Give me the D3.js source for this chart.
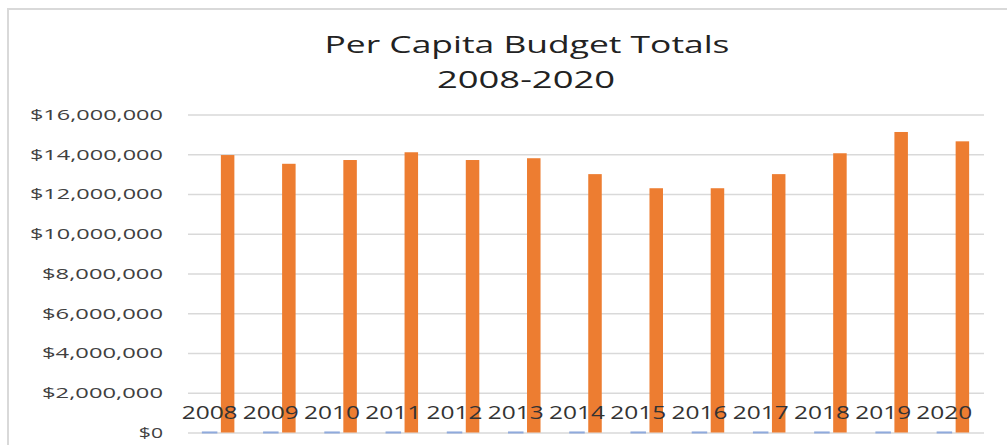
<!DOCTYPE html>
<html>
<head>
<meta charset="utf-8">
<script src="https://cdn.jsdelivr.net/npm/d3@7"></script>
<style>
  body { margin: 0; background: #fff; }
  text { font-family: "Open Sans", "Liberation Sans", sans-serif; }
</style>
</head>
<body>
<div class="canvas"></div>
<script>
// data
const years = ['2008', '2009', '2010', '2011', '2012', '2013', '2014', '2015', '2016', '2017', '2018', '2019', '2020']
// first series is the year itself (shows as a sliver at the bottom, labelled)
const yearValues = [2008, 2009, 2010, 2011, 2012, 2013, 2014, 2015, 2016, 2017, 2018, 2019, 2020]
const budgetTotals = [13960000, 13520000, 13710000, 14100000, 13710000, 13800000, 13000000, 12290000, 12290000, 13000000, 14050000, 15120000, 14650000]
const yTicks = [0, 2000000, 4000000, 6000000, 8000000, 10000000, 12000000, 14000000, 16000000]
const titleLines = ['Per Capita Budget Totals', '2008-2020']

const width = 1007
const height = 445

const margin = { top: 114.5, right: 23, bottom: 12.5, left: 188 }
const graphWidth = width - margin.left - margin.right
const graphHeight = height - margin.top - margin.bottom

const svg = d3.select('.canvas')
  .append('svg')
  .attr('width', width)
  .attr('height', height)

// chart frame (only top and left edges are in the shot)
svg.append('path')
  .attr('d', `M8,${height} V9 H${width}`)
  .attr('fill', 'none')
  .attr('stroke', '#d9d9d9')
  .attr('stroke-width', 2)

// title
svg.append('text')
  .attr('x', 527)
  .attr('y', 53)
  .attr('text-anchor', 'middle')
  .attr('font-size', 23.5)
  .attr('fill', '#222')
  .attr('textLength', 405)
  .attr('lengthAdjust', 'spacingAndGlyphs')
  .text(titleLines[0])

svg.append('text')
  .attr('x', 526)
  .attr('y', 88)
  .attr('text-anchor', 'middle')
  .attr('font-size', 23.5)
  .attr('fill', '#222')
  .attr('textLength', 178)
  .attr('lengthAdjust', 'spacingAndGlyphs')
  .text(titleLines[1])

const graph = svg.append('g')
  .attr('transform', `translate(${margin.left}, ${margin.top})`)

const y = d3.scaleLinear()
  .domain([0, 16000000])
  .range([graphHeight, 0])

const x = d3.scaleBand()
  .domain(years)
  .range([0, graphWidth])

const series = ['year', 'total']
const xInner = d3.scaleBand()
  .domain(series)
  .range([0, x.bandwidth()])
  .paddingInner(0.25)
  .paddingOuter(0.825)

// gridlines
const grid = graph.append('g')
  .call(d3.axisLeft(y).tickValues(yTicks).tickSize(-graphWidth).tickFormat(''))
grid.select('.domain').remove()
grid.selectAll('line')
  .attr('stroke', '#d9d9d9')
  .attr('stroke-width', 1.5)

// y axis labels
const money = d3.format('$,')
const yAxisGroup = graph.append('g')
  .call(d3.axisLeft(y).tickValues(yTicks).tickSize(0).tickPadding(25).tickFormat(d => money(d)))
yAxisGroup.select('.domain').remove()
yAxisGroup.selectAll('text')
  .attr('font-size', 15)
  .attr('fill', '#404040')
  .attr('textLength', d => money(d).length * 12.1)
  .attr('lengthAdjust', 'spacingAndGlyphs')

// orange bars
graph.selectAll('rect.total')
  .data(budgetTotals)
  .enter()
  .append('rect')
    .attr('class', 'total')
    .attr('x', (d, i) => x(years[i]) + xInner('total'))
    .attr('width', xInner.bandwidth())
    .attr('y', d => y(d))
    .attr('height', d => graphHeight - y(d))
    .attr('fill', '#ED7D31')

// blue bars (tiny)
graph.selectAll('rect.year')
  .data(yearValues)
  .enter()
  .append('rect')
    .attr('class', 'year')
    .attr('x', (d, i) => x(years[i]) + xInner('year'))
    .attr('width', xInner.bandwidth())
    .attr('y', d => y(d))
    .attr('height', d => graphHeight - y(d))
    .attr('fill', '#4472C4')
    .attr('stroke', '#8FAADC')
    .attr('stroke-width', 2)

// data labels on the blue series
graph.selectAll('text.yearLabel')
  .data(yearValues)
  .enter()
  .append('text')
    .attr('class', 'yearLabel')
    .attr('x', (d, i) => x(years[i]) + xInner('year') + xInner.bandwidth() / 2)
    .attr('y', d => y(d) - 13.5)
    .attr('text-anchor', 'middle')
    .attr('font-size', 17.5)
    .attr('fill', '#333')
    .attr('textLength', 56)
    .attr('lengthAdjust', 'spacingAndGlyphs')
    .text(d => d)
</script>
</body>
</html>
